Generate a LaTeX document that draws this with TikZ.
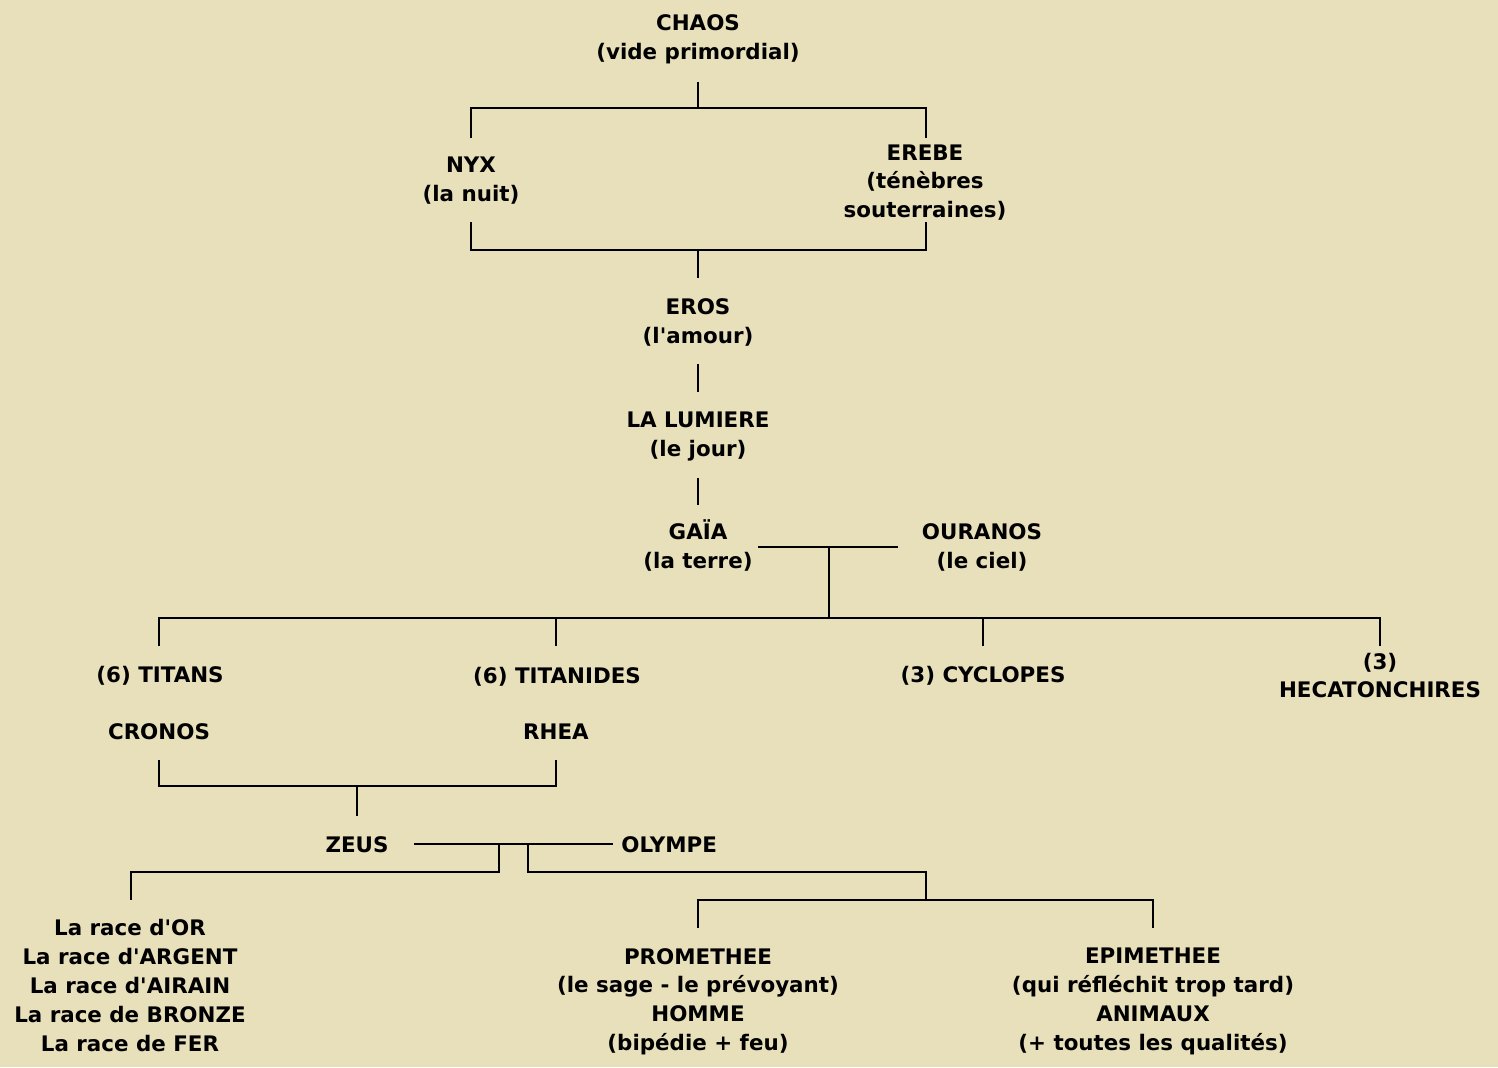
\documentclass[tikz,border=0pt]{standalone}
\usepackage{fontspec}
\setmainfont{DejaVu Sans}
\begin{document}
\begin{tikzpicture}[x=0.5pt,y=-0.5pt,
  lbl/.style={font=\bfseries\fontsize{10.7}{14.4}\selectfont, align=center, inner sep=0pt, text=black},
  ln/.style={draw=black, line width=0.75pt}]
\definecolor{parch}{RGB}{232,224,186}
\fill[parch] (0,0) rectangle (1498,1067);
\useasboundingbox (0,0) rectangle (1498,1067);
% nodes
\node[lbl] (chaos) at (698,39) {CHAOS\\(vide primordial)};
\node[lbl] (nyx) at (471,181) {NYX\\(la nuit)};
\node[lbl] (erebe) at (925,182.5) {EREBE\\(ténèbres\\souterraines)};
\node[lbl] (eros) at (698,322.5) {EROS\\(l\textquotesingle amour)};
\node[lbl] (lumiere) at (698,436.5) {LA LUMIERE\\(le jour)};
\node[lbl] (gaia) at (698,545.5) {GAÏA\\(la terre)};
\node[lbl] (ouranos) at (982,547.5) {OURANOS\\(le ciel)};
\node[lbl] (titans) at (160,676) {(6) TITANS};
\node[lbl] (titanides) at (557,677) {(6) TITANIDES};
\node[lbl] (cyclopes) at (983,676) {(3) CYCLOPES};
\node[lbl] (hecato) at (1380,675.5) {(3)\\HECATONCHIRES};
\node[lbl] (cronos) at (159,732) {CRONOS};
\node[lbl] (rhea) at (556,732) {RHEA};
\node[lbl] (zeus) at (357,845) {ZEUS};
\node[lbl,anchor=west] (olympe) at (621,845) {OLYMPE};
\node[lbl] (races) at (130,985.5) {La race d\textquotesingle OR\\La race d\textquotesingle ARGENT\\La race d\textquotesingle AIRAIN\\La race de BRONZE\\La race de FER};
\node[lbl] (promethee) at (698,1001.5) {PROMETHEE\\(le sage - le prévoyant)\\HOMME\\(bipédie + feu)};
\node[lbl] (epimethee) at (1153,1001.5) {EPIMETHEE\\(qui réfléchit trop tard)\\ANIMAUX\\(+ toutes les qualités)};
% connector points
\coordinate (chaosS) at (698,82);
\coordinate (j1) at (698,108);
\coordinate (nyxN) at (471,138);
\coordinate (erebeN) at (926,138);
\coordinate (nyxS) at (471,222);
\coordinate (erebeS) at (926,222);
\coordinate (j2) at (698,250);
\coordinate (erosN) at (698,278);
\coordinate (erosS) at (698,364);
\coordinate (lumN) at (698,392);
\coordinate (lumS) at (698,478);
\coordinate (gaiaN) at (698,505);
\coordinate (gaiaE) at (758,547);
\coordinate (ouranosW) at (898,547);
\coordinate (j3) at (829,547);
\coordinate (j4) at (829,618);
\coordinate (titansN) at (159,646);
\coordinate (titanidesN) at (556,646);
\coordinate (cyclopesN) at (983,646);
\coordinate (hecatoN) at (1380,646);
\coordinate (cronosS) at (159,760);
\coordinate (rheaS) at (556,760);
\coordinate (j5) at (357,786);
\coordinate (zeusN) at (357,816);
\coordinate (zeusE) at (414,844);
\coordinate (olympeW) at (613,844);
\coordinate (j6) at (499,844);
\coordinate (j7) at (528,844);
\coordinate (racesN) at (131,900);
\coordinate (j8) at (926,900);
\coordinate (promN) at (698,928);
\coordinate (epiN) at (1153,928);
% connectors
\draw[ln] (chaosS) -- (j1);
\draw[ln] (nyxN) |- (j1) -| (erebeN);
\draw[ln] (nyxS) |- (j2) -| (erebeS);
\draw[ln] (j2) -- (erosN);
\draw[ln] (erosS) -- (lumN);
\draw[ln] (lumS) -- (gaiaN);
\draw[ln] (gaiaE) -- (ouranosW);
\draw[ln] (j3) -- (j4);
\draw[ln] (titansN) |- (j4) -| (hecatoN);
\draw[ln] (titanidesN) -- (titanidesN |- j4);
\draw[ln] (cyclopesN) -- (cyclopesN |- j4);
\draw[ln] (cronosS) |- (j5) -| (rheaS);
\draw[ln] (j5) -- (zeusN);
\draw[ln] (zeusE) -- (olympeW);
\draw[ln] (j6) -- ++(0,28) -| (racesN);
\draw[ln] (j7) -- ++(0,28) -| (j8);
\draw[ln] (promN) |- (j8) -| (epiN);
\end{tikzpicture}
\end{document}
